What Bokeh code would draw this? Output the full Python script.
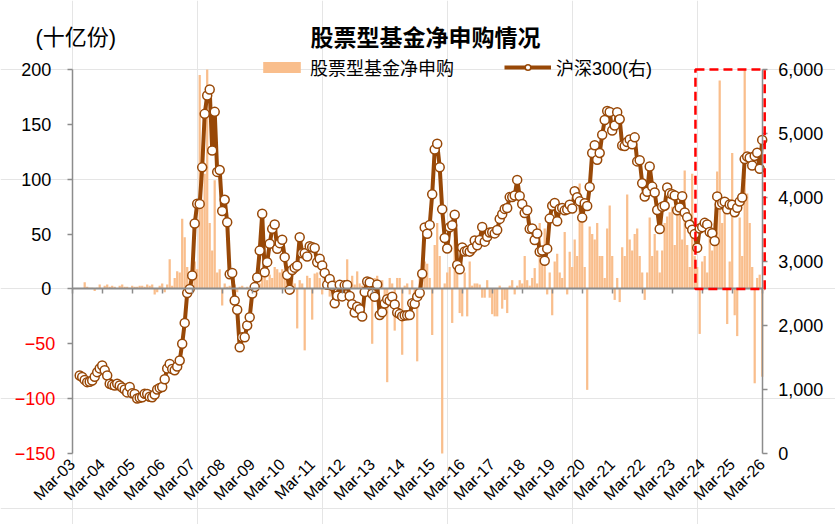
import numpy as np
import pandas as pd
from bokeh.plotting import figure
from bokeh.models import (Range1d, LinearAxis, FixedTicker, NumeralTickFormatter,
                          BoxAnnotation, Label, Legend, LegendItem, ColumnDataSource)
from bokeh.embed import file_html
from bokeh.resources import INLINE

# ---------------------------------------------------------------- data
# monthly observations, Jun-2003 .. Mar-2026
months = pd.date_range("2003-06-01", "2026-03-01", freq="MS")

# CSI 300 month-end level (right axis)
hs300 = (
    [1219, 1195, 1150, 1115, 1120, 1140, 1200]                                   # 2003 Jun-Dec
    + [1271, 1330, 1375, 1300, 1219, 1090, 1075, 1063, 1089, 1063, 1030, 1000]   # 2004
    + [955, 1040, 940, 930, 859, 871, 880, 933, 930, 887, 879, 923]              # 2005
    + [999, 1025, 1040, 1160, 1330, 1400, 1320, 1300, 1360, 1453, 1714, 2041]    # 2006
    + [2507, 2569, 2781, 3595, 3903, 3900, 4471, 5307, 5594, 5688, 4734, 5338]   # 2007
    + [4400, 4430, 3790, 3964, 3614, 2800, 2820, 2391, 2245, 1661, 1818, 1817]   # 2008
    + [2000, 2130, 2500, 2600, 2750, 3170, 3745, 2833, 2990, 3276, 3510, 3578]   # 2009
    + [3198, 3287, 3339, 3068, 2790, 2560, 2868, 2904, 2935, 3379, 3130, 3128]   # 2010
    + [3077, 3239, 3223, 3211, 2987, 3044, 2938, 2822, 2635, 2728, 2620, 2346]   # 2011
    + [2465, 2635, 2455, 2627, 2632, 2462, 2333, 2204, 2294, 2254, 2140, 2523]   # 2012
    + [2688, 2673, 2495, 2448, 2640, 2164, 2207, 2342, 2410, 2386, 2448, 2330]   # 2013
    + [2202, 2178, 2146, 2158, 2161, 2165, 2347, 2338, 2451, 2508, 2809, 3533]   # 2014
    + [3434, 3572, 4051, 4749, 4841, 4473, 3816, 3366, 3203, 3534, 3566, 3731]   # 2015
    + [2946, 2878, 3218, 3156, 3169, 3154, 3203, 3327, 3253, 3336, 3538, 3310]   # 2016
    + [3387, 3453, 3456, 3439, 3493, 3666, 3737, 3822, 3837, 4006, 4006, 4031]   # 2017
    + [4275, 4023, 3899, 3757, 3802, 3510, 3517, 3335, 3438, 3153, 3173, 3011]   # 2018
    + [3201, 3670, 3872, 3913, 3630, 3825, 3836, 3799, 3814, 3887, 3829, 4097]   # 2019
    + [4003, 3940, 3686, 3912, 3868, 4164, 4695, 4816, 4588, 4696, 4981, 5211]   # 2020
    + [5352, 5336, 5048, 5124, 5332, 5224, 4812, 4806, 4866, 4908, 4833, 4940]   # 2021
    + [4564, 4581, 4223, 4016, 4091, 4485, 4170, 4079, 3804, 3508, 3854, 3872]   # 2022
    + [4157, 4068, 4051, 4030, 3799, 3842, 4019, 3765, 3690, 3573, 3497, 3431]   # 2023
    + [3215, 3516, 3537, 3604, 3580, 3462, 3442, 3321, 4017, 3891, 3916, 3935]   # 2024
    + [3817, 3891, 3888, 3770, 3840, 3936, 4000, 4600, 4640, 4620, 4500, 4650]   # 2025
    + [4700, 4450, 4900]                                                         # 2026 Jan-Mar
)

# net subscriptions of equity funds, billion units (left axis)
net_sub = (
    [0, 0, 6, 2, 1, 1, -2]                                   # 2003 Jun-Dec
    + [1, 4, 0, 3, 4, 2, 3, 2, 0, 3, 4, 2]                   # 2004
    + [2, 1, 3, 2, 2, 3, 3, 2, 4, 3, 4, -5]                  # 2005
    + [-3, 3, 5, -3, 4, 27, 3, 10, 16, 15, 64, 47]           # 2006
    + [20, 5, 15, 25, 18, 195, 75, 105, 200, 60, 35, 99]     # 2007
    + [15, 18, -15, 5, 2, 3, 2, 4, -3, 2, 3, 1]              # 2008
    + [2, -5, 3, 4, 3, 5, 10, 12, 8, 13, 10, 20]             # 2009
    + [18, 15, 18, 12, 15, 8, 10, 5, -36, 8, 5, -56]         # 2010
    + [12, 10, -28, 14, 15, 10, -5, 13, 5, -7, 6, 8]         # 2011
    + [3, -3, 4, 5, 27, 5, 12, 4, 16, 5, 3, 6]               # 2012
    + [-3, 5, -50, 10, 12, 5, 8, -8, -85, 10, 5, -38]        # 2013
    + [10, 10, -60, 3, 5, -5, 8, -10, -66, 12, 5, 25]        # 2014
    + [23, 10, -42, 40, 60, 30, -150, 5, 15, 20, -31, 45]    # 2015
    + [15, -22, -25, 15, -25, 25, 3, 5, 5, 4, -8, -8]        # 2016
    + [8, -8, -23, -25, -25, 3, -18, -10, -22, 3, 8, -5]     # 2017
    + [3, 8, 5, 30, 8, 3, 10, 19, 5, 60, 25, 55]             # 2018
    + [-5, 15, -24, 25, 32, 15, 10, 52, -5, 34, 20, 45]      # 2019
    + [30, 96, 70, 20, -92, 57, 50, 45, 60, 30, 30, 10]      # 2020
    + [55, 76, 30, -10, 10, -12, 38, 30, 86, 45, 35, 50]     # 2021
    + [55, 30, 15, -10, 15, 65, 30, 50, 35, 15, 35, 60]      # 2022
    + [66, 70, 75, 40, 70, 75, 45, 108, 40, 20, 105, 30]     # 2023
    + [20, -41, 25, 30, 15, 55, 35, 60, 107, 190, 60, 80]    # 2024
    + [-32, 25, 124, -24, -43, 65, 30, 200, 87, 60, 20, -86] # 2025
    + [10, 13, -80]                                          # 2026 Jan-Mar
)

# x ticks every March
tick_labels = ["Mar-03", "Mar-04", "Mar-05", "Mar-06", "Mar-07", "Mar-08",
               "Mar-09", "Mar-10", "Mar-11", "Mar-12", "Mar-13", "Mar-14",
               "Mar-15", "Mar-16", "Mar-17", "Mar-18", "Mar-19", "Mar-20",
               "Mar-21", "Mar-22", "Mar-23", "Mar-24", "Mar-25", "Mar-26"]
left_ticks = [-150, -100, -50, 0, 50, 100, 150, 200]
right_ticks = [0, 1000, 2000, 3000, 4000, 5000, 6000]

# highlighted recent window (months from Mar-03, left-axis units)
highlight = dict(left=249.3, right=277.0, bottom=0, top=200)

# month position counted from Mar-2003
month_pos = (months.year - 2003) * 12 + (months.month - 3)
x_ticks = [12 * i for i in range(len(tick_labels))]

src = ColumnDataSource(dict(x=month_pos, sub=net_sub, idx=hs300))

# ---------------------------------------------------------------- layout
W, H = 835, 524
# plot box inside the canvas (pixels): left/right axis lines, top/bottom
BOX_L, BOX_R, BOX_T, BOX_B = 71.7, 761.7, 69.0, 453.0

x0, x1 = x_ticks[0], x_ticks[-1]
y0, y1 = left_ticks[0], left_ticks[-1]
r0, r1 = right_ticks[0], right_ticks[-1]
px_x = (BOX_R - BOX_L) / (x1 - x0)
px_y = (BOX_B - BOX_T) / (y1 - y0)
px_r = (BOX_B - BOX_T) / (r1 - r0)

# the frame spans the whole canvas so that titles and labels are never clipped;
# the axes are pinned to the plot box with fixed_location
x_range = Range1d(x0 - BOX_L / px_x, x1 + (W - BOX_R) / px_x)
y_range = Range1d(y0 - (H - BOX_B) / px_y, y1 + BOX_T / px_y)
r_range = Range1d(r0 - (H - BOX_B) / px_r, r1 + BOX_T / px_r)

LATIN = "Liberation Sans"
CJK = "Noto Sans CJK SC"
MIXED = "'Liberation Sans', 'Noto Sans CJK SC'"
BAR = "#F9BE8C"
BROWN = "#984807"
AXIS = "#8C8C8C"

p = figure(width=W, height=H, output_backend="svg", toolbar_location=None,
           x_range=x_range, y_range=y_range,
           x_axis_location=None, y_axis_location=None,
           min_border=0, min_border_left=0, min_border_right=0,
           min_border_top=0, min_border_bottom=0,
           outline_line_color=None, background_fill_color="white")
p.extra_y_ranges = {"hs300": r_range}

bars = p.vbar(x="x", top="sub", bottom=0, width=0.9, source=src,
              fill_color=BAR, line_color=None)
line = p.line(x="x", y="idx", source=src, y_range_name="hs300",
              line_color=BROWN, line_width=4)
dots = p.scatter(x="x", y="idx", source=src, y_range_name="hs300",
                 marker="circle", size=9, fill_color="white",
                 line_color=BROWN, line_width=1.5)

p.add_layout(BoxAnnotation(**highlight, fill_alpha=0, line_color="#FF0000",
                           line_alpha=1.0, line_width=2.5, line_dash="9 5"))

# bottom: rotated March labels under the plot box
x_labels = LinearAxis(fixed_location=y0, ticker=FixedTicker(ticks=x_ticks),
                      major_label_overrides={t: s for t, s in zip(x_ticks, tick_labels)},
                      major_label_orientation=np.pi / 4,
                      axis_line_color=None, major_tick_line_color=None,
                      minor_tick_line_color=None, major_tick_in=0, major_tick_out=0,
                      major_label_text_font=LATIN, major_label_text_font_size="16px",
                      major_label_text_color="black", major_label_standoff=8)
p.add_layout(x_labels, "below")

# zero line with a tick each March
zero_axis = LinearAxis(fixed_location=0, bounds=(x0, x1),
                       ticker=FixedTicker(ticks=x_ticks),
                       major_label_overrides={t: "" for t in x_ticks},
                       major_label_text_font_size="0px",
                       axis_line_color=AXIS, axis_line_width=2,
                       major_tick_line_color=AXIS, major_tick_line_width=1.5,
                       major_tick_in=0, major_tick_out=5,
                       minor_tick_line_color=None)
p.add_layout(zero_axis, "below")

# left axis: black labels for 0 and above
left_axis = LinearAxis(fixed_location=x0, bounds=(y0, y1),
                       ticker=FixedTicker(ticks=left_ticks),
                       major_label_overrides={t: "" for t in left_ticks if t < 0},
                       axis_line_color=AXIS, axis_line_width=1.5,
                       major_tick_line_color=AXIS, major_tick_line_width=1.5,
                       major_tick_in=0, major_tick_out=5, minor_tick_line_color=None,
                       major_label_text_font=LATIN, major_label_text_font_size="18px",
                       major_label_text_color="black", major_label_standoff=16)
p.add_layout(left_axis, "left")

# negative values of the left axis in red
neg_ticks = [t for t in left_ticks if t < 0]
left_neg = LinearAxis(fixed_location=x0, ticker=FixedTicker(ticks=neg_ticks),
                      axis_line_color=None, major_tick_line_color=None,
                      major_tick_in=0, major_tick_out=5, minor_tick_line_color=None,
                      major_label_text_font=LATIN, major_label_text_font_size="18px",
                      major_label_text_color="#FF0000", major_label_standoff=12)
p.add_layout(left_neg, "left")

right_axis = LinearAxis(y_range_name="hs300", fixed_location=x1, bounds=(r0, r1),
                        ticker=FixedTicker(ticks=right_ticks),
                        formatter=NumeralTickFormatter(format="0,0"),
                        axis_line_color=AXIS, axis_line_width=1.5,
                        major_tick_line_color=AXIS, major_tick_line_width=1.5,
                        major_tick_in=0, major_tick_out=5, minor_tick_line_color=None,
                        major_label_text_font=LATIN, major_label_text_font_size="18px",
                        major_label_text_color="black", major_label_standoff=11)
p.add_layout(right_axis, "right")

# title and unit (screen units from the canvas bottom-left)
p.add_layout(Label(x=425, y=H - 35, x_units="screen", y_units="screen",
                   text="股票型基金净申购情况", text_align="center",
                   text_baseline="middle", text_font=CJK,
                   text_font_style="bold", text_font_size="23px", text_color="black"))
p.add_layout(Label(x=35, y=H - 37, x_units="screen", y_units="screen",
                   text="(十亿份)", text_align="left", text_baseline="middle",
                   text_font=MIXED, text_font_size="22px", text_color="black"))

legend = Legend(items=[LegendItem(label="股票型基金净申购", renderers=[bars]),
                       LegendItem(label="沪深300(右)", renderers=[line, dots])],
                orientation="horizontal", location=(258, H - 69 - 11),
                glyph_width=47, glyph_height=14, spacing=50, padding=0, margin=0,
                label_standoff=5, label_text_font=MIXED, label_text_font_size="18px",
                label_text_color="black", border_line_color=None,
                background_fill_alpha=0)
p.add_layout(legend)

open("out.html", "w").write(file_html(p, INLINE))
